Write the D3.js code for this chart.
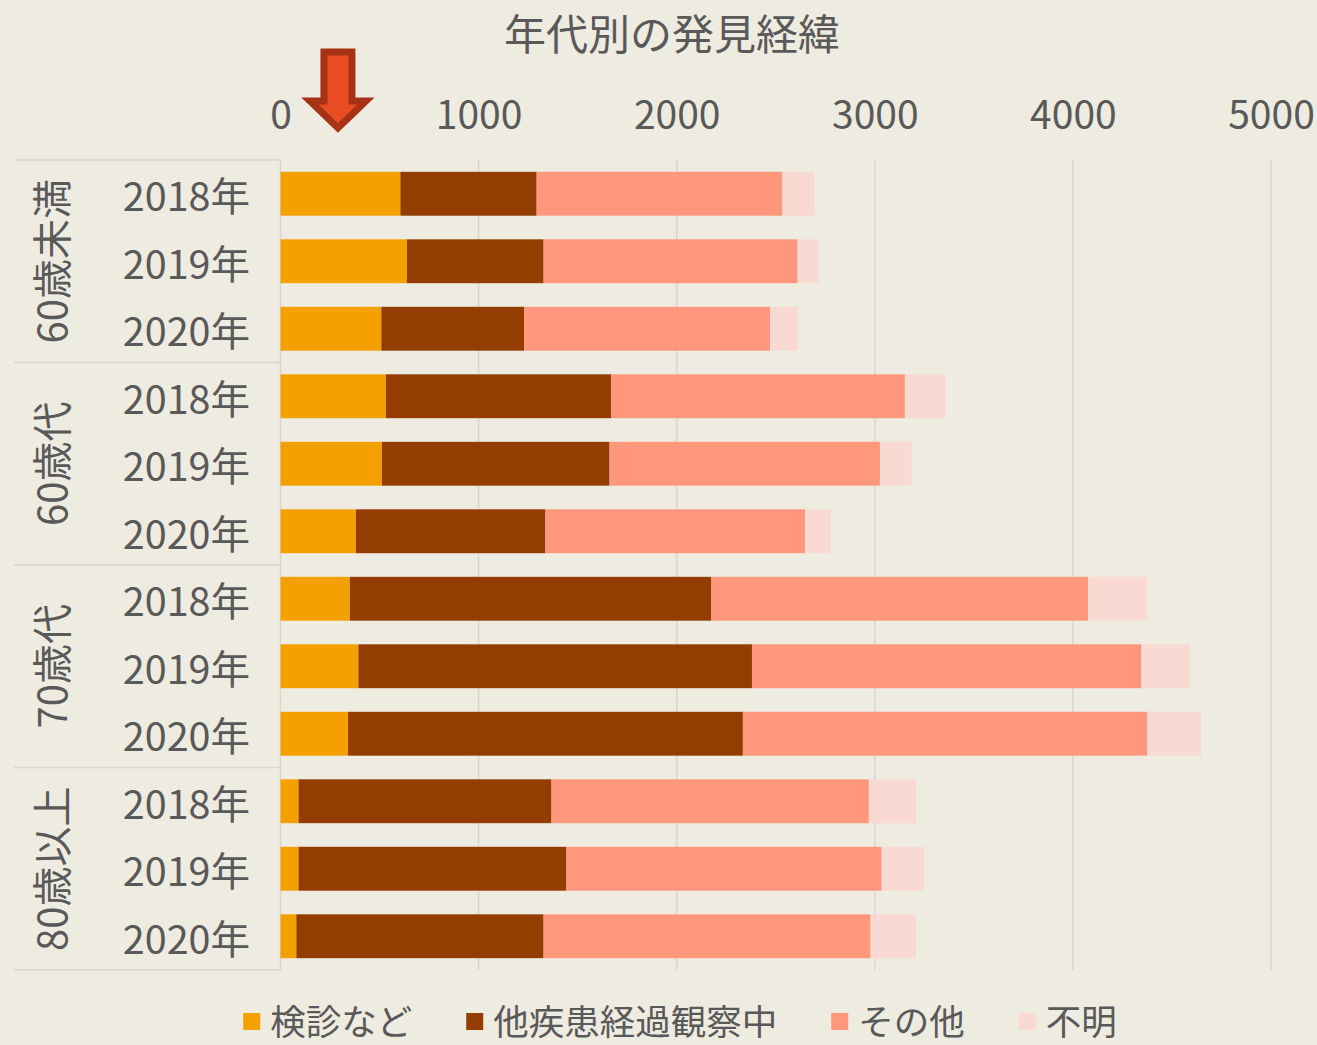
<!DOCTYPE html>
<html lang="ja">
<head>
<meta charset="utf-8">
<script src="https://cdn.jsdelivr.net/npm/d3@7"></script>
<style>
  html, body { margin: 0; padding: 0; background: #EEEBE0; }
  svg { display: block; }
  text { font-family: "Noto Sans CJK JP", "Noto Sans", sans-serif; fill: #595959; }
</style>
</head>
<body>
<svg id="chart" width="1317" height="1045"></svg>
<script>
// Age groups and survey years (rows are grouped by age, three years each)
const groups = ["60歳未満", "60歳代", "70歳代", "80歳以上"];
const years = ["2018年", "2019年", "2020年"];
const seriesNames = ["検診など", "他疾患経過観察中", "その他", "不明"];

// Counts per row, ordered group by group, year by year
const kenshin = [605, 638, 509, 532, 512, 381, 350, 393, 341, 91, 91, 80];
const takanja = [688, 690, 721, 1138, 1149, 956, 1825, 1987, 1993, 1277, 1352, 1248];
const sonota  = [1241, 1282, 1241, 1482, 1365, 1311, 1902, 1966, 2042, 1602, 1592, 1651];
const fumei   = [161, 108, 141, 205, 160, 130, 299, 246, 271, 238, 214, 229];

const xTicks = [0, 1000, 2000, 3000, 4000, 5000];
const colors = ["#F4A000", "#943D00", "#FF977C", "#F9DAD3"];
const arrowValue = 290;

const title = "年代別の発見経緯";

// Build rows for the stack layout
const rows = [];
groups.forEach((g, gi) => {
  years.forEach((y, yi) => {
    const i = gi * years.length + yi;
    rows.push({
      key: g + "|" + y, group: g, year: y,
      "検診など": kenshin[i],
      "他疾患経過観察中": takanja[i],
      "その他": sonota[i],
      "不明": fumei[i]
    });
  });
});

const svg = d3.select("#chart");
const plot = { left: 280.5, right: 1271, top: 160, bottom: 970 };
const labelLeft = 14;

const x = d3.scaleLinear().domain([0, 5000]).range([plot.left, plot.right]);
const y = d3.scaleBand().domain(rows.map(d => d.key))
  .range([plot.top, plot.bottom]).paddingInner(0.35).paddingOuter(0.175);

const layers = d3.stack().keys(seriesNames)(rows);

// Title
svg.append("text")
  .attr("x", 672).attr("y", 31)
  .attr("text-anchor", "middle").attr("dominant-baseline", "central")
  .style("font-size", "42px")
  .text(title);

// Vertical gridlines
svg.append("g").selectAll("line")
  .data(xTicks.filter(t => t > 0))
  .join("line")
  .attr("x1", d => x(d)).attr("x2", d => x(d))
  .attr("y1", plot.top).attr("y2", plot.bottom)
  .attr("stroke", "#D9D6D0").attr("stroke-width", 1.5);

// Top axis labels
const axis = d3.axisTop(x).tickValues(xTicks).tickSize(0).tickPadding(0).tickFormat(d3.format("d"));
const axisG = svg.append("g").attr("transform", "translate(0, 112)").call(axis);
axisG.select(".domain").remove();
axisG.selectAll("text")
  .attr("dy", null).attr("y", 0)
  .attr("dominant-baseline", "central")
  .style("font-size", "39px")
  .style("font-family", "\"Noto Sans CJK JP\", sans-serif")
  .attr("fill", "#595959");

// Category table lines on the left
const sepYs = d3.range(groups.length + 1).map(i => plot.top + i * years.length * y.step());
svg.append("g").selectAll("line")
  .data(sepYs)
  .join("line")
  .attr("x1", labelLeft).attr("x2", plot.left)
  .attr("y1", d => d).attr("y2", d => d)
  .attr("stroke", "#D9D6D0").attr("stroke-width", 1.5);
svg.append("line")
  .attr("x1", plot.left).attr("x2", plot.left)
  .attr("y1", plot.top).attr("y2", plot.bottom)
  .attr("stroke", "#D9D6D0").attr("stroke-width", 1.5);

// Bars
svg.append("g").selectAll("g")
  .data(layers)
  .join("g")
  .attr("fill", (d, i) => colors[i])
  .selectAll("rect")
  .data(d => d)
  .join("rect")
  .attr("x", d => x(d[0]))
  .attr("width", d => x(d[1]) - x(d[0]))
  .attr("y", d => y(d.data.key))
  .attr("height", y.bandwidth());

// Year labels
svg.append("g").selectAll("text")
  .data(rows)
  .join("text")
  .attr("x", 250)
  .attr("y", d => y(d.key) + y.bandwidth() / 2)
  .attr("text-anchor", "end").attr("dominant-baseline", "central")
  .style("font-size", "39.5px")
  .text(d => d.year);

// Group labels (rotated)
svg.append("g").selectAll("text")
  .data(groups)
  .join("text")
  .attr("transform", (d, i) => `translate(50, ${(sepYs[i] + sepYs[i + 1]) / 2}) rotate(-90)`)
  .attr("text-anchor", "middle").attr("dominant-baseline", "central")
  .style("font-size", "40px")
  .text(d => d);

// Down arrow annotation above the axis
const ax = x(arrowValue);
const arrowPts = [
  [ax - 14, 52], [ax + 14, 52], [ax + 14, 101], [ax + 28, 101],
  [ax, 128], [ax - 28, 101], [ax - 14, 101]
];
svg.append("path")
  .attr("d", d3.line()(arrowPts) + "Z")
  .attr("fill", "#E84C22")
  .attr("stroke", "#A83216")
  .attr("stroke-width", 7)
  .attr("stroke-linejoin", "miter");

// Legend
const legend = svg.append("g").attr("transform", "translate(0, 1019)");
const items = legend.selectAll("g").data(seriesNames).join("g");
items.append("rect")
  .attr("width", 17).attr("height", 17).attr("y", -6)
  .attr("fill", (d, i) => colors[i]);
items.append("text")
  .attr("x", 27).attr("y", 0)
  .attr("dominant-baseline", "central")
  .style("font-size", "35.5px")
  .text(d => d);
const gap = 54;
let cursor = 0;
const offsets = [];
items.each(function () {
  const w = this.querySelector("text").getComputedTextLength();
  offsets.push(cursor);
  cursor += 27 + w + gap;
});
const total = cursor - gap;
const start = 680 - total / 2;
items.attr("transform", (d, i) => `translate(${start + offsets[i]}, 0)`);
</script>
</body>
</html>
